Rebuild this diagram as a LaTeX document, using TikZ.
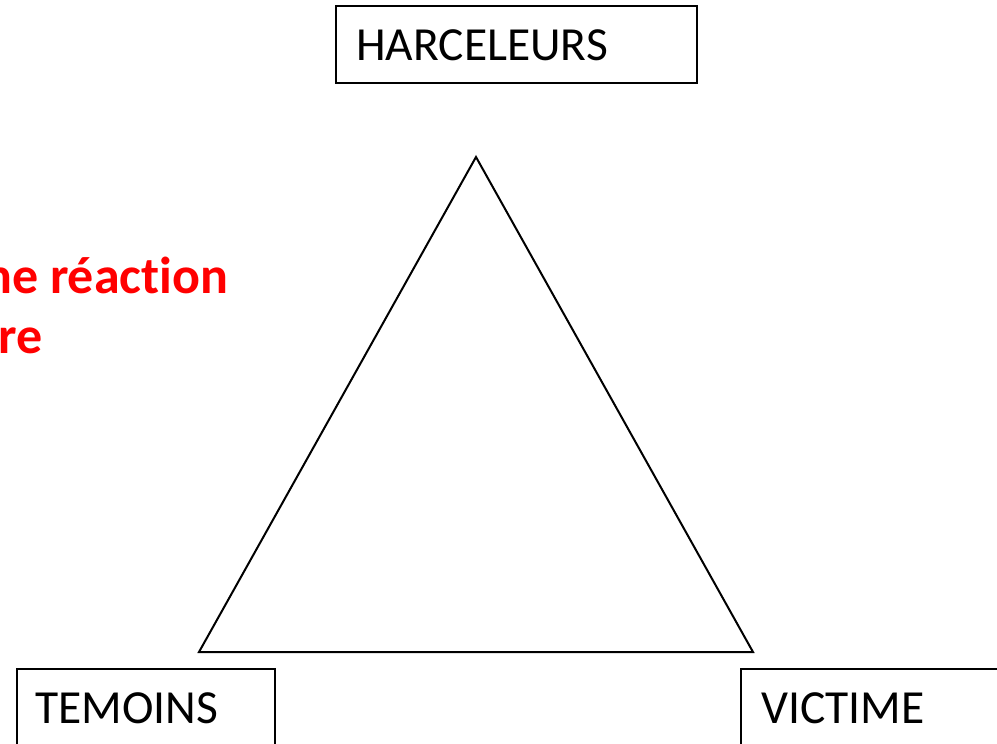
\documentclass[tikz,border=0pt]{standalone}
\usepackage{fontspec}
\setmainfont[Ligatures={NoCommon}]{Carlito}
\tikzset{
  box/.style={draw=black, line width=1.8pt, anchor=north west, inner sep=0pt},
  lbl/.style={anchor=base west, inner sep=0pt, font=\fontsize{47.5}{57}\selectfont, text=black},
  redtxt/.style={anchor=base west, inner sep=0pt, font=\fontsize{52}{62}\selectfont\bfseries, text=red},
  tri/.style={draw=black, line width=2pt, line join=miter}
}
\begin{document}
\begin{tikzpicture}[x=1pt,y=-1pt]
\useasboundingbox (0,0) rectangle (997,744);
\clip (0,0) rectangle (997,744);
% boxes
\node[box, minimum width=361pt, minimum height=77pt] (harcbox) at (335,5) {};
\node[box, minimum width=258pt, minimum height=120pt] (temobox) at (16,668) {};
\node[box, minimum width=300pt, minimum height=120pt] (victbox) at (740,668) {};
% labels
\node[lbl] (harc) at (356,60) {HARCELEURS};
\node[lbl] (temo) at (35,723) {TEMOINS};
\node[lbl] (vict) at (761,723) {VICTIME};
% red text
\node[redtxt] (red1) at (-16,293) {ne réaction};
\node[redtxt] (red2) at (-2,353) {re};
% triangle
\coordinate (apex) at (476,157);
\coordinate (bl) at (199,652);
\coordinate (br) at (753,652);
\draw[tri] (apex) -- (br) -- (bl) -- cycle;
\end{tikzpicture}
\end{document}
